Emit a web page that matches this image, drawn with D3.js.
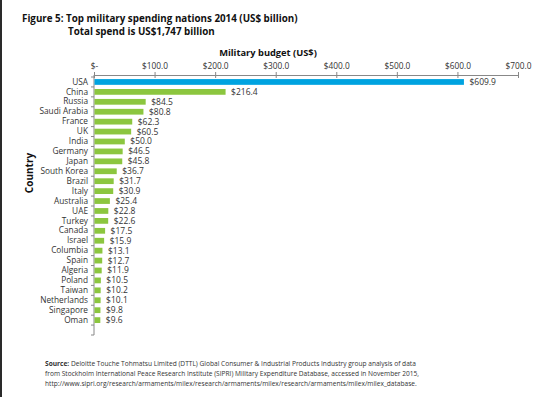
<!DOCTYPE html>
<html><head><meta charset="utf-8">
<script src="https://cdn.jsdelivr.net/npm/d3@7"></script>
<style>
body{margin:0;background:#fff;}
svg{display:block;font-family:"Open Sans",sans-serif;}
</style></head>
<body><svg id="c" width="541" height="397"></svg>
<script>
const countries = ["USA","China","Russia","Saudi Arabia","France","UK","India","Germany","Japan","South Korea","Brazil","Italy","Australia","UAE","Turkey","Canada","Israel","Columbia","Spain","Algeria","Poland","Taiwan","Netherlands","Singapore","Oman"];
const budgets = [609.9,216.4,84.5,80.8,62.3,60.5,50.0,46.5,45.8,36.7,31.7,30.9,25.4,22.8,22.6,17.5,15.9,13.1,12.7,11.9,10.5,10.2,10.1,9.8,9.6];
const xTicks = [0,100,200,300,400,500,600,700];
const highlight = "USA";

const svg = d3.select("#c");
svg.append("rect").attr("x",0).attr("y",0).attr("width",2).attr("height",397).attr("fill","#2a2a2a");

const x = d3.scaleLinear().domain([0,700]).range([94,518]);
const y = d3.scaleBand().domain(countries.concat([""])).range([77,335]).paddingInner(0.42).paddingOuter(0.21);

// titles
svg.append("text").attr("x",22).attr("y",22).attr("font-size",9.8).attr("font-weight","bold").attr("fill","#111")
  .text("Figure 5: Top military spending nations 2014 (US$ billion)");
svg.append("text").attr("x",68).attr("y",35).attr("font-size",9.8).attr("font-weight","bold").attr("fill","#111")
  .text("Total spend is US$1,747 billion");
svg.append("text").attr("x",268).attr("y",56).attr("text-anchor","middle").attr("font-size",9.3).attr("font-weight","bold").attr("fill","#111")
  .text("Military budget (US$)");
svg.append("text").attr("transform","translate(33,173) rotate(-90)").attr("text-anchor","middle").attr("font-size",10).attr("font-weight","bold").attr("fill","#111")
  .text("Country");

// x axis
const xAxis = d3.axisTop(x).tickValues(xTicks).tickSizeInner(3).tickSizeOuter(3)
  .tickFormat(d => d===0 ? "$-" : "$" + d3.format(".1f")(d));
const gx = svg.append("g").attr("transform","translate(0,75)").call(xAxis);
gx.selectAll("path,line").attr("stroke","#888");
gx.selectAll(".tick line").attr("y2",3).attr("y1",-3);
gx.selectAll("text").attr("font-size",8.3).attr("fill","#333").attr("y",-6).attr("font-family","Open Sans");

// y axis
const yAxis = d3.axisLeft(y).tickSize(0).tickPadding(6);
const gy = svg.append("g").attr("transform","translate(94,0)").call(yAxis);
gy.select("path").attr("stroke","#888").attr("d","M0,75V335");
gy.selectAll("text").attr("font-size",8.3).attr("fill","#333").attr("font-family","Open Sans");
// band boundary ticks
const bounds = countries.concat([""]).map(c => y(c) - y.step()*y.paddingInner()/2);
bounds.push(335);
gy.selectAll(".bt").data(bounds).join("line").attr("class","bt")
  .attr("x1",-3).attr("x2",0).attr("y1",d=>d).attr("y2",d=>d).attr("stroke","#888");

// bars
svg.append("g").selectAll("rect").data(countries).join("rect")
  .attr("x",x(0)+0.5).attr("y",d=>y(d)).attr("height",y.bandwidth())
  .attr("width",(d,i)=>x(budgets[i])-x(0))
  .attr("fill",d=>d===highlight?"#00a3e0":"#8cc63f");

svg.append("g").selectAll("text").data(countries).join("text")
  .attr("x",(d,i)=>x(budgets[i])+6).attr("y",d=>y(d)+y.bandwidth()/2).attr("dy","0.35em")
  .attr("font-size",8.5).attr("fill","#333")
  .text((d,i)=>"$"+d3.format(".1f")(budgets[i]));

// source
const src = svg.append("g").attr("font-size",6.6).attr("fill","#333");
const t1 = src.append("text").attr("x",45).attr("y",366);
t1.append("tspan").attr("font-weight","bold").text("Source:");
t1.append("tspan").text(" Deloitte Touche Tohmatsu Limited (DTTL) Global Consumer & Industrial Products Industry group analysis of data");
src.append("text").attr("x",45).attr("y",376).text("from Stockholm International Peace Research Institute (SIPRI) Military Expenditure Database, accessed in November 2015,");
src.append("text").attr("x",45).attr("y",386).text("http://www.sipri.org/research/armaments/milex/research/armaments/milex/research/armaments/milex/milex_database.");
</script></body></html>
